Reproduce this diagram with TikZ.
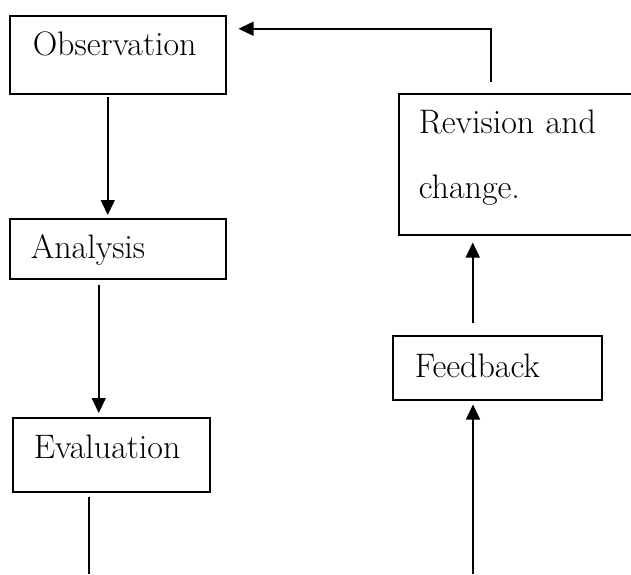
\documentclass[tikz,border=0pt]{standalone}
\usepackage{tikz}
\usetikzlibrary{arrows.meta}

\begin{document}
\begin{tikzpicture}[x=1pt,y=1pt,line width=1.5pt,>={Triangle[length=15pt,width=14pt]},
    stage/.style={draw,rectangle,anchor=north west,align=left,inner ysep=0pt,font=\fontsize{34}{65}\selectfont}]

            \clip (0,0) rectangle (631,-574);

            \node[stage,inner xsep=23pt,text width=170pt,text height=40pt,text depth=38pt] (obs) at (9,-15)    {Observation};
            \node[stage,inner xsep=21pt,text width=174pt,text height=40pt,text depth=20pt] (ana) at (9,-218)   {Analysis};
            \node[stage,inner xsep=21pt,text width=155pt,text height=41pt,text depth=33pt] (eva) at (12,-417)  {Evaluation};
            \node[stage,inner xsep=20pt,text width=202pt,text height=40pt,text depth=101pt] (rev) at (398,-93) {Revision and\\change.};
            \node[stage,inner xsep=22pt,text width=165pt,text height=42pt,text depth=22pt] (fee) at (392,-335) {Feedback};

            \coordinate (evaout) at (89,-574);
            \coordinate (feein)  at (473,-574);

              \draw[->,shorten <=2pt,shorten >=3pt]  ([xshift=-10pt]obs.south) -- ([xshift=-10pt]ana.north);
              \draw[->,shorten <=5pt,shorten >=4pt]  ([xshift=-19pt]ana.south) -- ([xshift=-19pt]ana.south |- eva.north);
              \draw[shorten <=4pt]                   (evaout |- eva.south) -- (evaout);
              \draw[->,shorten >=4pt]                (feein) -- (feein |- fee.south);
              \draw[->,shorten <=12pt,shorten >=7pt] ([xshift=-24.5pt]fee.north) -- ([xshift=-24.5pt]fee.north |- rev.south);
              \draw[->,shorten <=11pt,shorten >=12pt] ([xshift=-29pt]rev.north) |- ([yshift=26pt]obs.east);
            \end{tikzpicture}
\end{document}
